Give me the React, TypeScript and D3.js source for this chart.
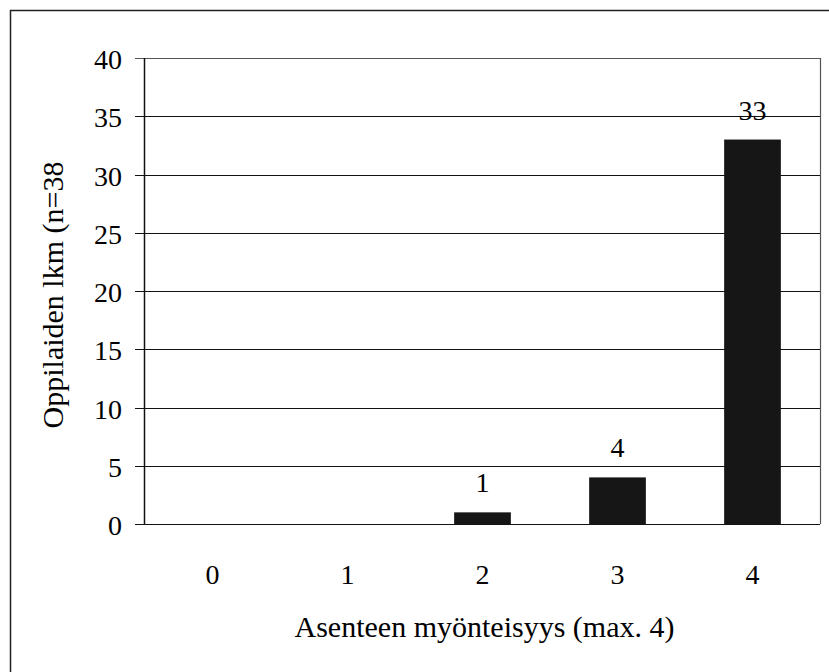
import React from "react";
import * as d3 from "d3";

const categories = ["0", "1", "2", "3", "4"];
const counts = [0, 0, 1, 4, 33];
const yTicks = [0, 5, 10, 15, 20, 25, 30, 35, 40];
const xTitle = "Asenteen myönteisyys (max. 4)";
const yTitle = "Oppilaiden lkm (n=38";

const W = 829;
const H = 672;
const plot = { left: 145, right: 820, top: 58, bottom: 524 };
const FONT = "Liberation Serif, Times New Roman, serif";
const TICK_SIZE = 28;
const TITLE_SIZE = 30;

export default function App() {
  const x = d3
    .scaleBand<string>()
    .domain(categories)
    .range([plot.left, plot.right])
    .paddingInner(0.58)
    .paddingOuter(0.29);
  const y = d3.scaleLinear().domain([0, 40]).range([plot.bottom, plot.top]);
  const textStyle = { fontFamily: FONT };

  return (
    <svg
      width={W}
      height={H}
      style={{ position: "absolute", left: 0, top: 0, background: "#fff" }}
    >
      {/* outer frame (left and top edges) */}
      <line x1={10.5} x2={10.5} y1={10} y2={H} stroke="#222" strokeWidth={1.5} />
      <line x1={10} x2={W} y1={10.5} y2={10.5} stroke="#222" strokeWidth={1.5} />

      {/* gridlines */}
      {yTicks.map((t) => (
        <line
          key={`g${t}`}
          x1={plot.left - 10}
          x2={plot.right}
          y1={Math.round(y(t)) + 0.5}
          y2={Math.round(y(t)) + 0.5}
          stroke={t === 40 ? "#555" : "#111"}
          strokeWidth={t === 40 ? 1 : 1.2}
        />
      ))}

      {/* plot border right */}
      <line
        x1={plot.right + 0.5}
        x2={plot.right + 0.5}
        y1={plot.top}
        y2={plot.bottom}
        stroke="#555"
        strokeWidth={1.2}
      />
      {/* y axis */}
      <line
        x1={plot.left - 0.5}
        x2={plot.left - 0.5}
        y1={plot.top}
        y2={plot.bottom}
        stroke="#111"
        strokeWidth={1.5}
      />

      {/* y tick labels */}
      {yTicks.map((t) => (
        <text
          key={`t${t}`}
          x={122}
          y={y(t) + 11}
          textAnchor="end"
          fontSize={TICK_SIZE}
          fill="#000"
          style={textStyle}
        >
          {t}
        </text>
      ))}

      {/* bars */}
      {categories.map((c, i) =>
        counts[i] > 0 ? (
          <rect
            key={`b${c}`}
            x={x(c)}
            y={y(counts[i])}
            width={x.bandwidth()}
            height={y(0) - y(counts[i])}
            fill="#161616"
          />
        ) : null
      )}

      {/* value labels */}
      {categories.map((c, i) =>
        counts[i] > 0 ? (
          <text
            key={`v${c}`}
            x={(x(c) as number) + x.bandwidth() / 2}
            y={y(counts[i]) - 20}
            textAnchor="middle"
            fontSize={TICK_SIZE}
            fill="#000"
            style={textStyle}
          >
            {counts[i]}
          </text>
        ) : null
      )}

      {/* x tick labels */}
      {categories.map((c) => (
        <text
          key={`x${c}`}
          x={(x(c) as number) + x.bandwidth() / 2}
          y={584}
          textAnchor="middle"
          fontSize={TICK_SIZE}
          fill="#000"
          style={textStyle}
        >
          {c}
        </text>
      ))}

      {/* axis titles */}
      <text
        x={(plot.left + plot.right) / 2 + 2}
        y={637}
        textAnchor="middle"
        fontSize={TITLE_SIZE}
        fill="#000"
        style={textStyle}
      >
        {xTitle}
      </text>
      <text
        transform={`translate(63, 295) rotate(-90)`}
        textAnchor="middle"
        fontSize={TITLE_SIZE}
        fill="#000"
        style={textStyle}
      >
        {yTitle}
      </text>
    </svg>
  );
}
